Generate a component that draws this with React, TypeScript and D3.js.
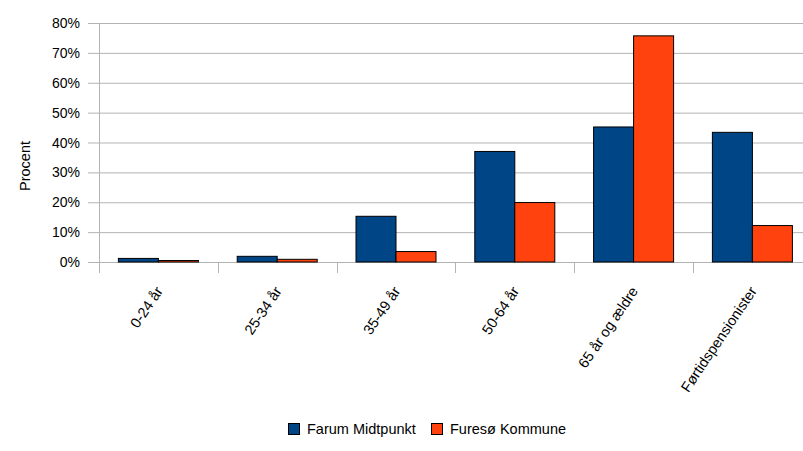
import React, { useRef, useEffect } from "react";
import * as d3 from "d3";

const categories = [
  "0-24 år",
  "25-34 år",
  "35-49 år",
  "50-64 år",
  "65 år og ældre",
  "Førtidspensionister",
];
const seriesNames = ["Farum Midtpunkt", "Furesø Kommune"];
const farumValues = [1.2, 1.9, 15.3, 37.0, 45.2, 43.4];
const furesoValues = [0.5, 0.9, 3.5, 19.9, 75.7, 12.2];
const yTicks = [0, 10, 20, 30, 40, 50, 60, 70, 80];
const colors = ["#004586", "#ff420e"];

export default function App() {
  const svgRef = useRef<SVGSVGElement>(null);
  const width = 803;
  const height = 451;

  useEffect(() => {
    const svg = d3.select(svgRef.current);
    svg.selectAll("*").remove();

    const left = 99;
    const top = 23;
    const bottom = 262;
    const catW = 118.8;
    const font = "'Liberation Sans', Arial, sans-serif";

    const x = d3
      .scaleBand()
      .domain(categories)
      .range([left, left + catW * categories.length]);
    // two bars of ~40px in the middle of each category
    const x1 = d3
      .scaleBand()
      .domain(seriesNames)
      .range([0, x.bandwidth()])
      .paddingOuter(0.485);
    const y = d3.scaleLinear().domain([0, 80]).range([bottom, top]);

    //gridlines + left ticks
    svg
      .append("g")
      .selectAll("line")
      .data(yTicks)
      .join("line")
      .attr("x1", left - 11)
      .attr("x2", width)
      .attr("y1", (d) => y(d) + 0.5)
      .attr("y2", (d) => y(d) + 0.5)
      .attr("stroke", "#b3b3b3");

    // y axis line
    svg
      .append("line")
      .attr("x1", left + 0.5)
      .attr("x2", left + 0.5)
      .attr("y1", top)
      .attr("y2", bottom)
      .attr("stroke", "#b3b3b3");

    // x ticks
    svg
      .append("g")
      .selectAll("line")
      .data(categories)
      .join("line")
      .attr("x1", (d) => Math.round(x(d)!) + 0.5)
      .attr("x2", (d) => Math.round(x(d)!) + 0.5)
      .attr("y1", bottom)
      .attr("y2", bottom + 11)
      .attr("stroke", "#b3b3b3");

    svg
      .append("g")
      .selectAll("text")
      .data(yTicks)
      .join("text")
      .attr("x", 80)
      .attr("y", (d) => y(d) + 5)
      .attr("text-anchor", "end")
      .style("font", `14px ${font}`)
      .text((d) => d + "%");

    svg
      .append("text")
      .attr("transform", "translate(30,166) rotate(-90)")
      .attr("text-anchor", "middle")
      .style("font", `14.5px ${font}`)
      .text("Procent");

    const data = categories.map((c, i) => ({
      cat: c,
      vals: [farumValues[i], furesoValues[i]],
    }));

    svg
      .append("g")
      .selectAll("g")
      .data(data)
      .join("g")
      .attr("transform", (d) => `translate(${x(d.cat)},0)`)
      .selectAll("rect")
      .data((d) => d.vals.map((v, j) => ({ v, name: seriesNames[j], j })))
      .join("rect")
      .attr("x", (d) => x1(d.name)!)
      .attr("y", (d) => y(d.v))
      .attr("width", x1.bandwidth())
      .attr("height", (d) => bottom - y(d.v))
      .attr("fill", (d) => colors[d.j])
      .attr("stroke", "#000")
      .attr("stroke-width", 1);

    // rotated category labels
    svg
      .append("g")
      .selectAll("text")
      .data(categories)
      .join("text")
      .attr(
        "transform",
        (d) => `translate(${x(d)! + x.bandwidth() / 2 + 5},${bottom + 29}) rotate(-56)`
      )
      .attr("text-anchor", "end")
      .style("font", `14.5px ${font}`)
      .text((d) => d);

    // legend
    const legend = svg
      .append("g")
      .selectAll("g")
      .data(seriesNames)
      .join("g")
      .attr("transform", (d, i) => `translate(${i === 0 ? 288 : 431},423)`);
    legend
      .append("rect")
      .attr("x", 0.5)
      .attr("y", 0.5)
      .attr("width", 11)
      .attr("height", 11)
      .attr("fill", (d, i) => colors[i])
      .attr("stroke", "#000");
    legend
      .append("text")
      .attr("x", 19)
      .attr("y", 11)
      .style("font", `14.5px ${font}`)
      .text((d) => d);
  }, []);

  return (
    <svg
      ref={svgRef}
      width={width}
      height={height}
      style={{ position: "absolute", left: 0, top: 0, background: "#fff" }}
    ></svg>
  );
}
